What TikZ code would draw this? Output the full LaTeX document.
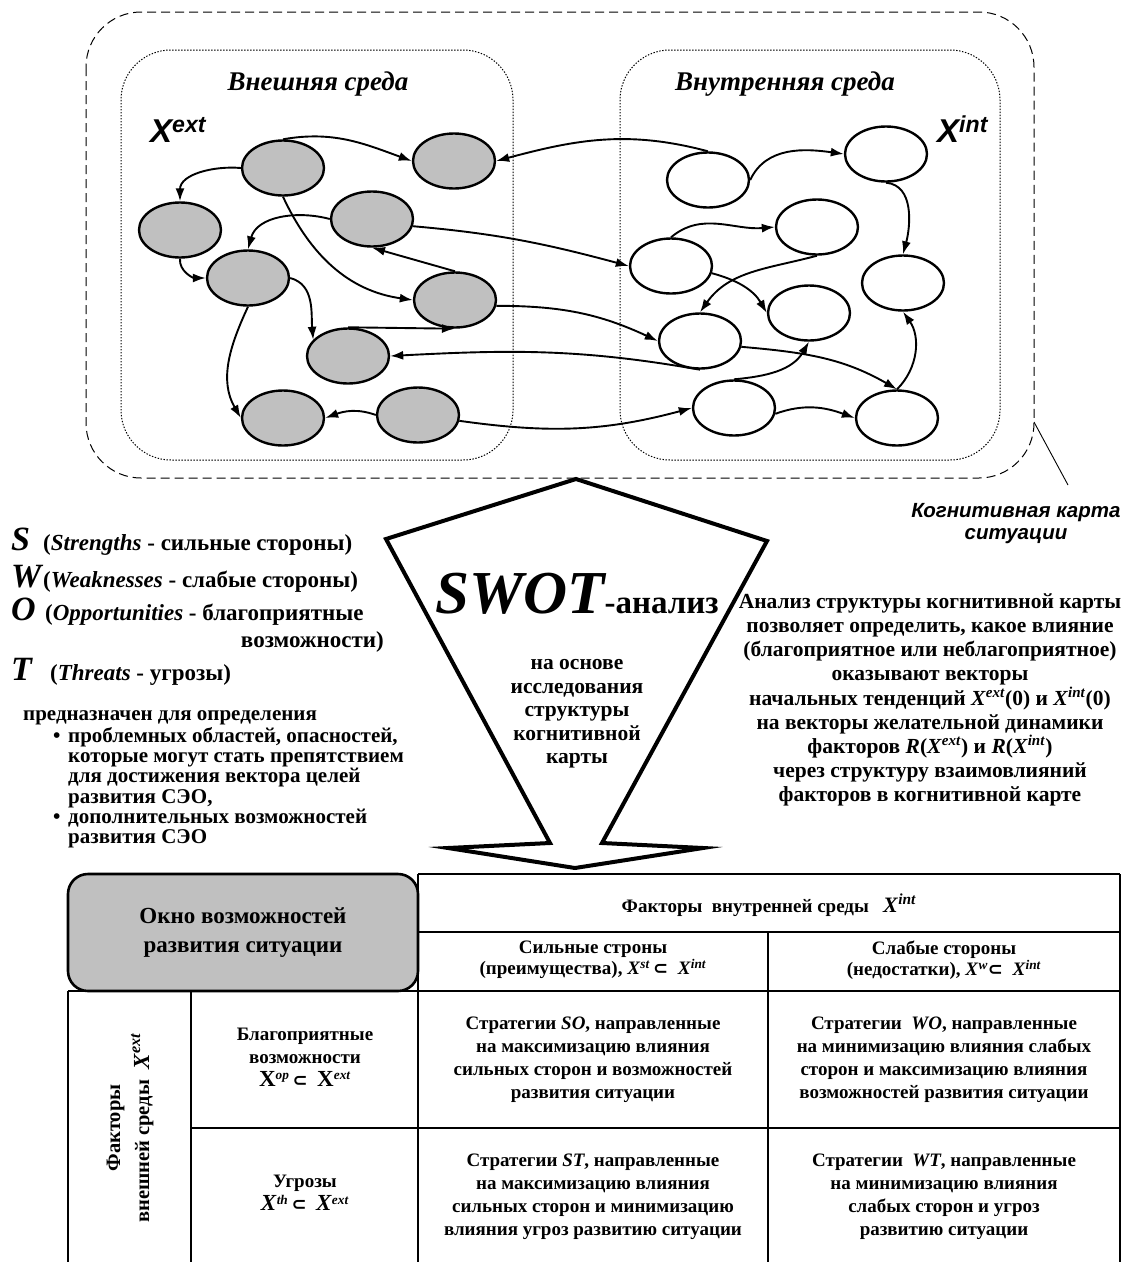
\documentclass[tikz,border=0pt]{standalone}
\usepackage{fontspec}
\setmainfont{Liberation Serif}
\setsansfont{Liberation Sans}
\newfontfamily\symbfont{DejaVu Sans}
\usetikzlibrary{shapes.geometric,arrows.meta}

\definecolor{factorgray}{HTML}{C0C0C0}
\newcommand{\fsz}[2]{\fontsize{#1}{#2}\selectfont}
\newcommand{\subsetsym}{{\symbfont\fsz{18}{18}⊂}}
\newcommand{\Xs}[1]{\textit{X}\textsuperscript{\textit{#1}}}
\newcommand{\Xu}[1]{{\fsz{23}{23}X}\textsuperscript{\textit{#1}}}
\newcommand{\Xb}[1]{{\fsz{23}{23}\textit{X}}\textsuperscript{\textit{#1}}}

\begin{document}
\begin{tikzpicture}[x=1pt,y=1pt,
  factor/.style={ellipse,draw,line width=2.4pt,minimum width=82pt,minimum height=55pt,inner sep=0pt},
  extf/.style={factor,fill=factorgray},
  intf/.style={factor,fill=white},
  link/.style={line width=1.9pt,-{Latex[length=13pt,width=9pt]}},
  envtitle/.style={font=\fsz{27}{27}\bfseries\itshape,inner sep=0pt},
  setlabel/.style={font=\fsz{33}{33}\sffamily\bfseries\itshape,inner sep=0pt,anchor=base west},
  swotletter/.style={anchor=base west,inner sep=0pt,font=\fsz{34}{34}\bfseries\itshape},
  swotline/.style={anchor=base west,inner sep=0pt,font=\fsz{23}{23}\bfseries},
  purpline/.style={anchor=base west,inner sep=0pt,font=\fsz{21}{21}\bfseries},
  plain/.style={font=\fsz{21.5}{24.2}\bfseries,align=center,inner sep=0pt},
  cell/.style={font=\fsz{19}{23}\bfseries,align=center,inner sep=0pt},
  grid/.style={line width=2.6pt}]

\useasboundingbox (0,0) rectangle (1125,-1262);

% cognitive map frame
\draw[line width=1pt,dash pattern=on 9pt off 5pt,rounded corners=55pt] (86,-12) rectangle (1034,-478);
\draw[line width=1pt,dash pattern=on 1.4pt off 1.6pt,rounded corners=50pt] (121,-50) rectangle (513,-460);
\draw[line width=1pt,dash pattern=on 1.4pt off 1.6pt,rounded corners=50pt] (620,-50) rectangle (1000,-460);

\node[envtitle] (exttitle) at (318,-84) {Внешняя среда};
\node[envtitle] (inttitle) at (785,-84) {Внутренняя среда};
\node[setlabel] (xext) at (150,-142) {X\textsuperscript{ext}};
\node[setlabel] (xint) at (937,-142) {X\textsuperscript{int}};

% external factors
\node[extf] (G1) at (283,-168) {};
\node[extf] (G2) at (454,-161) {};
\node[extf] (G3) at (180,-230) {};
\node[extf] (G4) at (372,-219) {};
\node[extf] (G5) at (248,-278) {};
\node[extf] (G6) at (455,-300) {};
\node[extf] (G7) at (348,-356) {};
\node[extf] (G8) at (283,-418) {};
\node[extf] (G9) at (418,-415) {};

% internal factors
\node[intf] (W1) at (708,-180) {};
\node[intf] (W2) at (886,-154) {};
\node[intf] (W3) at (817,-227) {};
\node[intf] (W4) at (671,-266) {};
\node[intf] (W5) at (903,-283) {};
\node[intf] (W6) at (809,-313) {};
\node[intf] (W7) at (700,-341) {};
\node[intf] (W8) at (734,-408) {};
\node[intf] (W9) at (897,-418) {};

% influences
\draw[link] (G1.north) to[out=10,in=160] (G2.west);
\draw[link] (G1.west) to[out=175,in=90] (G3.north);
\draw[link] (W1.north) to[out=165,in=15] (G2.east);
\draw[link] (G1.south) to[out=-65,in=172] (G6.west);
\draw[link] (G4.west) to[out=165,in=75] (G5.north);
\draw[link] (G4.-10) to[out=-5,in=165] (W4.west);
\draw[link] (G3.south) to[out=-95,in=180] (G5.west);
\draw[link] (G6.north) -- (G4.south);
\draw[link] (G5.east) to[out=-15,in=95] (G7.155);
\draw[link] (G5.south) to[out=-115,in=120] (G8.west);
\draw[link] (G7.north) -- (G6.south);
\draw[link] (W7.south) to[out=170,in=3] (G7.east);
\draw[link] (G9.west) to[out=160,in=20] (G8.east);
\draw[link] (G9.-8) to[out=-8,in=195] (W8.west);
\draw[link] (G6.-8) to[out=0,in=155] (W7.west);
\draw[link] (W1.east) to[out=65,in=172] (W2.west);
\draw[link] (W2.south) to[out=-5,in=75] (W5.north);
\draw[link] (W4.north) to[out=40,in=185] (W3.west);
\draw[link] (W3.south) to[out=195,in=55] (W7.north);
\draw[link] (W4.-10) to[out=-15,in=120] (W6.west);
\draw[link] (W7.-8) to[out=-5,in=150] (W9.north);
\draw[link] (W8.north) to[out=5,in=-120] (W6.south);
\draw[link] (W8.-8) to[out=20,in=160] (W9.west);
\draw[link] (W9.north) to[out=45,in=-55] (W5.south);

% map caption
\coordinate (mapcorner) at (1034,-422);
\coordinate (mappoint) at (1068,-485);
\draw[line width=0.9pt] (mapcorner) -- (mappoint);
\node[font=\fsz{20.5}{22}\sffamily\bfseries\itshape,align=center,inner sep=0pt] (mapcap) at (1016,-524) {Когнитивная карта\\ситуации};

% SWOT arrow
\draw[line width=4pt,line join=miter] (576,-479) -- (767,-541) -- (602,-843) -- (703,-848) -- (575,-868)
  -- (448,-848) -- (550,-843) -- (386,-539) -- cycle;
\node[anchor=base,inner sep=0pt] (swot) at (577,-613) {\fsz{61}{61}\bfseries\itshape SWOT\fsz{33}{33}\upshape -анализ};
\node[font=\fsz{21.5}{23.5}\bfseries,align=center,inner sep=0pt] (basis) at (577,-714)
  {на основе\\исследования\\структуры\\когнитивной\\карты};

% SWOT letters
\node[swotletter] (lS) at (11,-550) {S};
\node[swotletter] (lW) at (11,-587) {W};
\node[swotletter] (lO) at (11,-620) {O};
\node[swotletter] (lT) at (11,-680) {T};
\node[swotline] (tS) at (43,-550) {(\textit{Strengths} - сильные стороны)};
\node[swotline] (tW) at (43,-587) {(\textit{Weaknesses} - слабые стороны)};
\node[swotline] (tO) at (45,-620) {(\textit{Opportunities} - благоприятные};
\node[swotline,anchor=base east] (tO2) at (384,-647) {возможности)};
\node[swotline] (tT) at (50,-680) {(\textit{Threats} - угрозы)};

% purpose
\node[purpline] (purp) at (23,-720) {предназначен для определения};
\node[purpline] (b1) at (53,-742) {•};
\node[purpline] (p1a) at (68,-742) {проблемных областей, опасностей,};
\node[purpline] (p1b) at (68,-762) {которые могут стать препятствием};
\node[purpline] (p1c) at (68,-782) {для достижения вектора целей};
\node[purpline] (p1d) at (68,-803) {развития СЭО,};
\node[purpline] (b2) at (53,-823) {•};
\node[purpline] (p2a) at (68,-823) {дополнительных возможностей};
\node[purpline] (p2b) at (68,-843) {развития СЭО};

% analysis note
\node[plain] (note) at (930,-700)
  {Анализ структуры когнитивной карты\\
   позволяет определить, какое влияние\\
   (благоприятное или неблагоприятное)\\
   оказывают векторы\\
   начальных тенденций \Xs{ext}(0) и \Xs{int}(0)\\
   на векторы желательной динамики\\
   факторов \textit{R}(\Xs{ext}) и \textit{R}(\Xs{int})\\
   через структуру взаимовлияний\\
   факторов в когнитивной карте};

% matrix
\node[draw,line width=2.6pt,fill=factorgray,rounded corners=20pt,minimum width=350pt,minimum height=117pt,
  font=\fsz{23}{29}\bfseries,align=center] (window) at (243,-932.5) {Окно возможностей\\развития ситуации};
\draw[grid] (418,-874) -- (1120,-874);
\draw[grid] (418,-932) -- (1120,-932);
\draw[grid] (68,-991) -- (1120,-991);
\draw[grid] (191,-1128) -- (1120,-1128);
\draw[grid] (418,-874) -- (418,-1262);
\draw[grid] (1120,-874) -- (1120,-1262);
\draw[grid] (768,-932) -- (768,-1262);
\draw[grid] (68,-991) -- (68,-1262);
\draw[grid] (191,-991) -- (191,-1262);

\node[cell] (inthead) at (769,-905) {Факторы\ \ внутренней среды \ \ {\fsz{22}{22}\Xs{int}}};
\node[cell,font=\fsz{19}{21}\bfseries] (strong) at (593,-960) {Сильные строны\\(преимущества), \Xs{st}\,\subsetsym\ \ \Xs{int}};
\node[cell,font=\fsz{19}{21}\bfseries] (weak) at (944,-960) {Слабые стороны\\(недостатки), \Xs{w}\subsetsym\ \ \Xs{int}};
\node[cell,rotate=90,font=\fsz{20.5}{29}\bfseries] (exthead) at (130,-1128) {Факторы\\внешней среды\ \ {\fsz{23}{23}\Xs{ext}}};
\node[cell] (opp) at (305,-1057) {Благоприятные\\возможности\\\Xu{op}\,\subsetsym\ \ \Xu{ext}};
\node[cell] (thr) at (305,-1193) {Угрозы\\\Xb{th}\,\subsetsym\ \ \Xb{ext}};
\node[cell] (SO) at (593,-1060) {Стратегии \textit{SO}, направленные\\на максимизацию влияния\\сильных сторон и возможностей\\развития ситуации};
\node[cell] (WO) at (944,-1060) {Стратегии \ \textit{WO}, направленные\\на минимизацию влияния слабых\\сторон и максимизацию влияния\\возможностей развития ситуации};
\node[cell] (ST) at (593,-1197) {Стратегии \textit{ST}, направленные\\на максимизацию влияния\\сильных сторон и минимизацию\\влияния угроз развитию ситуации};
\node[cell] (WT) at (944,-1197) {Стратегии \ \textit{WT}, направленные\\на минимизацию влияния\\слабых сторон и угроз\\развитию ситуации};

\end{tikzpicture}
\end{document}
